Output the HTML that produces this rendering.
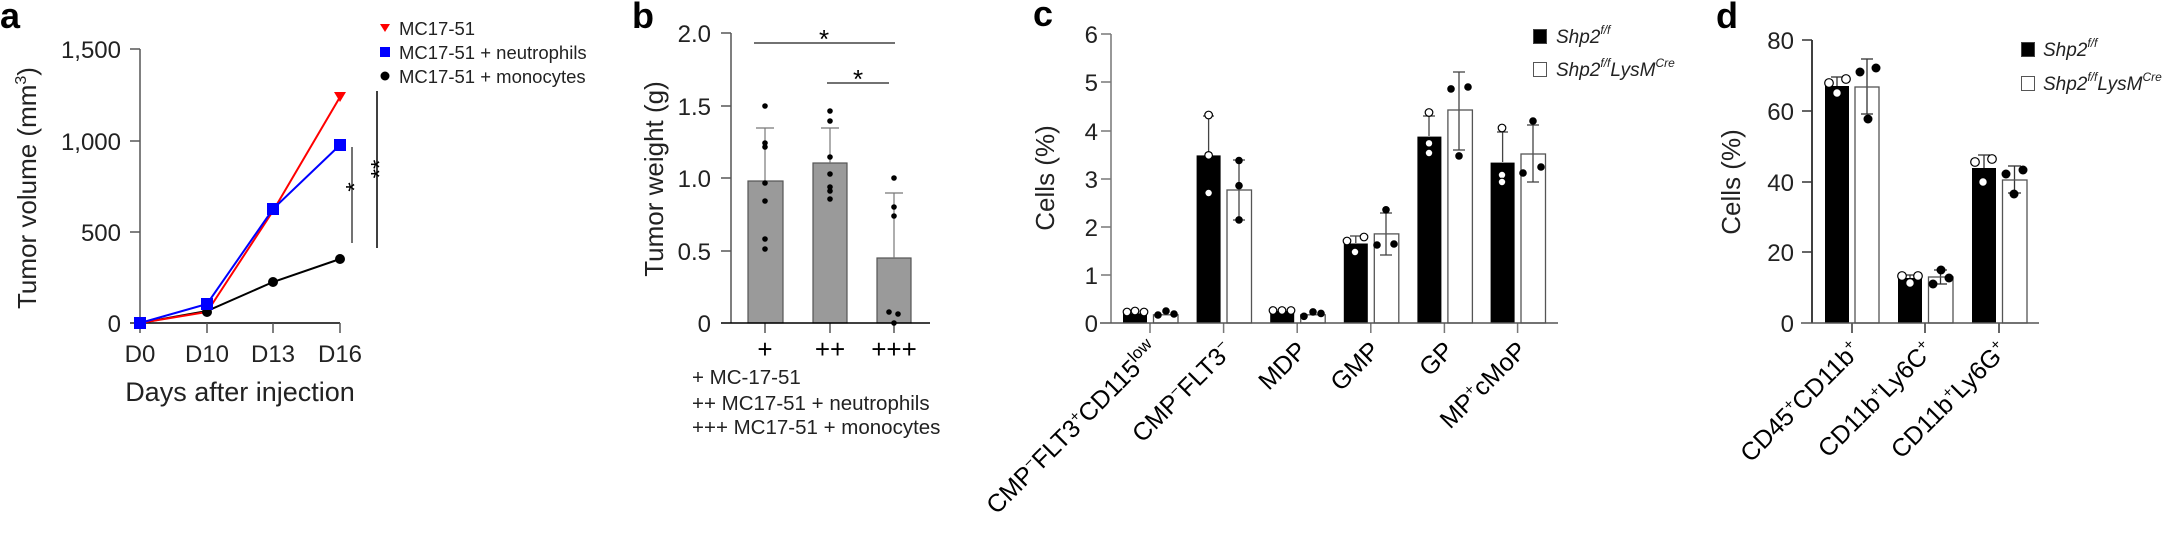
<!DOCTYPE html>
<html><head><meta charset="utf-8"><style>
html,body{margin:0;padding:0;background:#fff;}
svg{display:block;font-family:"Liberation Sans",sans-serif;}
</style></head><body>
<svg width="2167" height="539" viewBox="0 0 2167 539" xmlns="http://www.w3.org/2000/svg">
<!-- Panel letters -->
<g font-weight="bold" font-size="36" fill="#000">
<text x="0" y="28">a</text><text x="632" y="28">b</text><text x="1033" y="26">c</text><text x="1716" y="28">d</text>
</g>

<!-- ===== Panel a ===== -->
<g>
<line x1="140" y1="49" x2="140" y2="323" stroke="#808080" stroke-width="2"/>
<line x1="130" y1="323" x2="340" y2="323" stroke="#000" stroke-width="1.5"/>
<g stroke="#555" stroke-width="1.5">
<line x1="130" y1="49" x2="140" y2="49"/><line x1="130" y1="141" x2="140" y2="141"/><line x1="130" y1="232" x2="140" y2="232"/><line x1="130" y1="323" x2="140" y2="323"/>
<line x1="140" y1="323" x2="140" y2="333"/><line x1="207" y1="323" x2="207" y2="333"/><line x1="273" y1="323" x2="273" y2="333"/><line x1="340" y1="323" x2="340" y2="333"/>
</g>
<g font-size="24" text-anchor="end" fill="#222">
<text x="121" y="58">1,500</text><text x="121" y="150">1,000</text><text x="121" y="241">500</text><text x="121" y="332">0</text>
</g>
<g font-size="24" text-anchor="middle" fill="#222">
<text x="140" y="362">D0</text><text x="207" y="362">D10</text><text x="273" y="362">D13</text><text x="340" y="362">D16</text>
</g>
<text x="240" y="401" font-size="27" text-anchor="middle" fill="#222">Days after injection</text>
<text transform="translate(36,188) rotate(-90)" font-size="26" text-anchor="middle" fill="#222">Tumor volume (mm<tspan font-size="16" dy="-10">3</tspan><tspan dy="10">)</tspan></text>
<polyline points="140,323 207,311 273,282 340,259" fill="none" stroke="#000" stroke-width="2"/>
<polyline points="140,323 207,312 273,211 340,97" fill="none" stroke="#f00" stroke-width="2"/>
<polyline points="140,323 207,304 273,209 340,145" fill="none" stroke="#00f" stroke-width="2"/>
<g fill="#000"><circle cx="207" cy="312" r="5"/><circle cx="273" cy="282" r="5"/><circle cx="340" cy="259" r="5"/></g>
<polygon points="334,92 346,92 340,102" fill="#f00"/>
<g fill="#00f"><rect x="134" y="317" width="12" height="12"/><rect x="201" y="298" width="12" height="12"/><rect x="267" y="203" width="12" height="12"/><rect x="334" y="139" width="12" height="12"/></g>
<line x1="352" y1="147" x2="352" y2="243" stroke="#444" stroke-width="1.5"/>
<line x1="377" y1="91" x2="377" y2="248" stroke="#000" stroke-width="1.5"/>
<text transform="translate(356,187) rotate(-90)" font-size="24" text-anchor="middle" dominant-baseline="middle" fill="#000">*</text>
<text transform="translate(381,169) rotate(-90)" font-size="24" text-anchor="middle" dominant-baseline="middle" fill="#000">**</text>
<polygon points="380,24 390,24 385,32" fill="#f00"/>
<rect x="380" y="47" width="10" height="10" fill="#00f"/>
<circle cx="385" cy="76" r="4.5" fill="#000"/>
<g font-size="18.5" fill="#222">
<text x="399" y="35">MC17-51</text><text x="399" y="59">MC17-51 + neutrophils</text><text x="399" y="83">MC17-51 + monocytes</text>
</g>
</g>

<!-- ===== Panel b ===== -->
<g>
<text transform="translate(656,179) rotate(-90)" font-size="26" text-anchor="middle" dominant-baseline="middle" fill="#222">Tumor weight (g)</text>
<g font-size="24" text-anchor="end" fill="#222">
<text x="711" y="42">2.0</text><text x="711" y="115">1.5</text><text x="711" y="187">1.0</text><text x="711" y="260">0.5</text><text x="711" y="332">0</text>
</g>
<g fill="#9a9a9a" stroke="#555" stroke-width="1.2">
<rect x="748" y="181" width="35" height="142"/><rect x="813" y="163" width="34" height="160"/><rect x="877" y="258" width="34" height="65"/>
</g>
<line x1="731" y1="33" x2="731" y2="323" stroke="#555" stroke-width="1.5"/>
<g stroke="#555" stroke-width="1.5">
<line x1="721" y1="33" x2="731" y2="33"/><line x1="721" y1="106" x2="731" y2="106"/><line x1="721" y1="178" x2="731" y2="178"/><line x1="721" y1="251" x2="731" y2="251"/>
<line x1="765" y1="323" x2="765" y2="333"/><line x1="830" y1="323" x2="830" y2="333"/><line x1="894" y1="323" x2="894" y2="333"/>
</g>
<line x1="721" y1="323" x2="930" y2="323" stroke="#000" stroke-width="1.5"/>
<g stroke="#777" stroke-width="1.2">
<line x1="765" y1="181" x2="765" y2="128"/><line x1="756" y1="128" x2="774" y2="128"/>
<line x1="830" y1="163" x2="830" y2="128"/><line x1="821" y1="128" x2="839" y2="128"/>
<line x1="894" y1="258" x2="894" y2="193"/><line x1="885" y1="193" x2="903" y2="193"/>
</g>
<g fill="#000">
<circle cx="765" cy="106" r="2.8"/><circle cx="765" cy="143" r="2.8"/><circle cx="765" cy="147" r="2.8"/><circle cx="765" cy="183" r="2.8"/><circle cx="765" cy="201" r="2.8"/><circle cx="765" cy="239" r="2.8"/><circle cx="765" cy="249" r="2.8"/>
<circle cx="830" cy="111" r="2.8"/><circle cx="830" cy="121" r="2.8"/><circle cx="830" cy="157" r="2.8"/><circle cx="830" cy="174" r="2.8"/><circle cx="830" cy="187" r="2.8"/><circle cx="830" cy="191" r="2.8"/><circle cx="830" cy="199" r="2.8"/>
<circle cx="894" cy="178" r="2.8"/><circle cx="894" cy="207" r="2.8"/><circle cx="894" cy="216" r="2.8"/><circle cx="889" cy="312" r="2.8"/><circle cx="898" cy="314" r="2.8"/><circle cx="894" cy="323" r="2.8"/>
</g>
<line x1="754" y1="43" x2="895" y2="43" stroke="#444" stroke-width="1.5"/>
<line x1="827" y1="83" x2="889" y2="83" stroke="#444" stroke-width="1.5"/>
<text x="824" y="48" font-size="26" text-anchor="middle" fill="#000">*</text>
<text x="858" y="88" font-size="26" text-anchor="middle" fill="#000">*</text>
<g font-size="26" text-anchor="middle" fill="#000">
<text x="765" y="358">+</text><text x="830" y="358">++</text><text x="894" y="358">+++</text>
</g>
<g font-size="20.5" fill="#222">
<text x="692" y="384">+ MC-17-51</text><text x="692" y="410">++ MC17-51 + neutrophils</text><text x="692" y="434">+++ MC17-51 + monocytes</text>
</g>
</g>

<!-- ===== Panel c ===== -->
<g>
<text transform="translate(1047,178) rotate(-90)" font-size="26" text-anchor="middle" dominant-baseline="middle" fill="#222">Cells (%)</text>
<g font-size="24" text-anchor="end" fill="#222">
<text x="1098" y="43">6</text><text x="1098" y="91">5</text><text x="1098" y="140">4</text><text x="1098" y="188">3</text><text x="1098" y="236">2</text><text x="1098" y="284">1</text><text x="1098" y="332">0</text>
</g>
<line x1="1111" y1="34" x2="1111" y2="323" stroke="#777" stroke-width="1.5"/>
<g stroke="#777" stroke-width="1.5">
<line x1="1101" y1="34" x2="1111" y2="34"/><line x1="1101" y1="82" x2="1111" y2="82"/><line x1="1101" y1="131" x2="1111" y2="131"/><line x1="1101" y1="179" x2="1111" y2="179"/><line x1="1101" y1="227" x2="1111" y2="227"/><line x1="1101" y1="275" x2="1111" y2="275"/>
<line x1="1150" y1="323" x2="1150" y2="333"/><line x1="1223.6" y1="323" x2="1223.6" y2="333"/><line x1="1297.2" y1="323" x2="1297.2" y2="333"/><line x1="1370.8" y1="323" x2="1370.8" y2="333"/><line x1="1444.4" y1="323" x2="1444.4" y2="333"/><line x1="1517.6" y1="323" x2="1517.6" y2="333"/>
</g>
<!-- error bars -->
<g stroke="#444" stroke-width="1.3">
<line x1="1208.6" y1="155" x2="1208.6" y2="116"/><line x1="1203" y1="116" x2="1214" y2="116"/>
<line x1="1239" y1="160" x2="1239" y2="220"/><line x1="1233" y1="160" x2="1245" y2="160"/><line x1="1233" y1="220" x2="1245" y2="220"/>
<line x1="1355.8" y1="243" x2="1355.8" y2="236"/><line x1="1350" y1="236" x2="1362" y2="236"/>
<line x1="1386" y1="213" x2="1386" y2="255"/><line x1="1380" y1="213" x2="1392" y2="213"/><line x1="1380" y1="255" x2="1392" y2="255"/>
<line x1="1429" y1="136" x2="1429" y2="116"/><line x1="1423" y1="116" x2="1435" y2="116"/>
<line x1="1459" y1="72" x2="1459" y2="150"/><line x1="1453" y1="72" x2="1465" y2="72"/><line x1="1453" y1="150" x2="1465" y2="150"/>
<line x1="1502.6" y1="162" x2="1502.6" y2="132"/><line x1="1497" y1="132" x2="1508" y2="132"/>
<line x1="1533" y1="125" x2="1533" y2="182"/><line x1="1527" y1="125" x2="1539" y2="125"/><line x1="1527" y1="182" x2="1539" y2="182"/>
</g>
<!-- bars -->
<g fill="#000">
<rect x="1123" y="313.4" width="24" height="9.6"/><rect x="1196.6" y="155.4" width="24" height="167.6"/><rect x="1270.2" y="311" width="24" height="12"/><rect x="1343.8" y="243.5" width="24" height="79.5"/><rect x="1417.4" y="136.6" width="24" height="186.4"/><rect x="1490.6" y="162.6" width="24" height="160.4"/>
</g>
<g fill="none" stroke="#555" stroke-width="1.3">
<rect x="1153.5" y="314.8" width="24.5" height="8.2"/><rect x="1227" y="190" width="24.5" height="133"/><rect x="1300.7" y="314.8" width="24.5" height="8.2"/><rect x="1374.3" y="233.9" width="24.5" height="89.1"/><rect x="1447.9" y="110" width="24.5" height="213"/><rect x="1521" y="154" width="24.5" height="169"/>
</g>
<!-- open circles -->
<g fill="#fff" stroke="#000" stroke-width="1.2">
<circle cx="1127" cy="312" r="3.8"/><circle cx="1135" cy="311" r="3.8"/><circle cx="1144" cy="312" r="3.8"/>
<circle cx="1208.6" cy="115" r="3.8"/><circle cx="1208.6" cy="155.4" r="3.8"/><circle cx="1208.6" cy="193" r="3.8"/>
<circle cx="1273" cy="310.5" r="3.8"/><circle cx="1282" cy="310.5" r="3.8"/><circle cx="1291" cy="310.5" r="3.8"/>
<circle cx="1347" cy="241" r="3.8"/><circle cx="1355" cy="252" r="3.8"/><circle cx="1364" cy="237" r="3.8"/>
<circle cx="1429" cy="112.5" r="3.8"/><circle cx="1429" cy="143.3" r="3.8"/><circle cx="1429" cy="153" r="3.8"/>
<circle cx="1502" cy="128" r="3.8"/><circle cx="1502" cy="175" r="3.8"/><circle cx="1502" cy="182" r="3.8"/>
</g>
<g fill="#000">
<circle cx="1158" cy="315" r="3.8"/><circle cx="1166" cy="311" r="3.8"/><circle cx="1174" cy="314" r="3.8"/>
<circle cx="1239" cy="160.5" r="3.8"/><circle cx="1239" cy="185.7" r="3.8"/><circle cx="1239" cy="219.9" r="3.8"/>
<circle cx="1304" cy="316.3" r="3.8"/><circle cx="1313" cy="311.9" r="3.8"/><circle cx="1321" cy="313.4" r="3.8"/>
<circle cx="1386" cy="209.8" r="3.8"/><circle cx="1377" cy="245" r="3.8"/><circle cx="1394" cy="244" r="3.8"/>
<circle cx="1451" cy="88.9" r="3.8"/><circle cx="1468" cy="87" r="3.8"/><circle cx="1459" cy="155.9" r="3.8"/>
<circle cx="1533" cy="121" r="3.8"/><circle cx="1523" cy="173" r="3.8"/><circle cx="1541" cy="167" r="3.8"/>
</g>
<line x1="1100" y1="323" x2="1558" y2="323" stroke="#555" stroke-width="1.5"/>
<g font-size="25" text-anchor="end" fill="#000">
<text transform="translate(1160,352) rotate(-45)">CMP<tspan font-size="15" dy="-10">−</tspan><tspan dy="10">FLT3</tspan><tspan font-size="15" dy="-10">+</tspan><tspan dy="10">CD115</tspan><tspan font-size="17" dy="-10">low</tspan></text>
<text transform="translate(1234,352) rotate(-45)">CMP<tspan font-size="15" dy="-10">−</tspan><tspan dy="10">FLT3</tspan><tspan font-size="15" dy="-10">−</tspan></text>
<text transform="translate(1308,352) rotate(-45)">MDP</text>
<text transform="translate(1381,352) rotate(-45)">GMP</text>
<text transform="translate(1455,352) rotate(-45)">GP</text>
<text transform="translate(1528,352) rotate(-45)">MP<tspan font-size="15" dy="-10">+</tspan><tspan dy="10">cMoP</tspan></text>
</g>
<rect x="1533.5" y="29.5" width="13" height="14" fill="#000" stroke="#444"/>
<rect x="1533.5" y="62.5" width="13" height="14" fill="#fff" stroke="#555"/>
<g font-size="19" font-style="italic" fill="#222">
<text x="1556" y="43">Shp2<tspan font-size="12" dy="-9">f/f</tspan></text>
<text x="1556" y="76">Shp2<tspan font-size="12" dy="-9">f/f</tspan><tspan dy="9">LysM</tspan><tspan font-size="12" dy="-9">Cre</tspan></text>
</g>
</g>

<!-- ===== Panel d ===== -->
<g>
<text transform="translate(1733,182) rotate(-90)" font-size="26" text-anchor="middle" dominant-baseline="middle" fill="#222">Cells (%)</text>
<g font-size="24" text-anchor="end" fill="#222">
<text x="1794" y="49">80</text><text x="1794" y="120">60</text><text x="1794" y="191">40</text><text x="1794" y="261">20</text><text x="1794" y="332">0</text>
</g>
<line x1="1812" y1="40" x2="1812" y2="323" stroke="#000" stroke-width="1.5"/>
<g stroke="#333" stroke-width="1.5">
<line x1="1802" y1="40" x2="1812" y2="40"/><line x1="1802" y1="111" x2="1812" y2="111"/><line x1="1802" y1="182" x2="1812" y2="182"/><line x1="1802" y1="252" x2="1812" y2="252"/>
<line x1="1852" y1="323" x2="1852" y2="333"/><line x1="1925" y1="323" x2="1925" y2="333"/><line x1="1999" y1="323" x2="1999" y2="333"/>
</g>
<g stroke="#333" stroke-width="1.3">
<line x1="1837" y1="86" x2="1837" y2="77"/><line x1="1831" y1="77" x2="1843" y2="77"/>
<line x1="1867" y1="59" x2="1867" y2="114"/><line x1="1861" y1="59" x2="1873" y2="59"/><line x1="1861" y1="114" x2="1873" y2="114"/>
<line x1="1910" y1="278" x2="1910" y2="275"/><line x1="1904" y1="275" x2="1916" y2="275"/>
<line x1="1940.5" y1="270" x2="1940.5" y2="284"/><line x1="1934" y1="270" x2="1947" y2="270"/><line x1="1934" y1="284" x2="1947" y2="284"/>
<line x1="1984" y1="168" x2="1984" y2="155"/><line x1="1978" y1="155" x2="1990" y2="155"/>
<line x1="2014.5" y1="166" x2="2014.5" y2="193"/><line x1="2008" y1="166" x2="2021" y2="166"/><line x1="2008" y1="193" x2="2021" y2="193"/>
</g>
<g fill="#000">
<rect x="1825" y="86" width="24" height="237"/><rect x="1898" y="278" width="24" height="45"/><rect x="1972" y="168" width="24" height="155"/>
</g>
<g fill="none" stroke="#555" stroke-width="1.3">
<rect x="1855" y="87" width="24" height="236"/><rect x="1928.5" y="277" width="24.5" height="46"/><rect x="2002.5" y="180" width="24.5" height="143"/>
</g>
<g fill="#fff" stroke="#000" stroke-width="1.2">
<circle cx="1829" cy="83" r="4.3"/><circle cx="1837" cy="93" r="4.3"/><circle cx="1846" cy="79" r="4.3"/>
<circle cx="1902" cy="276" r="4.3"/><circle cx="1910" cy="283" r="4.3"/><circle cx="1918" cy="276" r="4.3"/>
<circle cx="1975" cy="162" r="4.3"/><circle cx="1992" cy="159" r="4.3"/><circle cx="1983" cy="182" r="4.3"/>
</g>
<g fill="#000">
<circle cx="1860" cy="72" r="4.5"/><circle cx="1876" cy="68" r="4.5"/><circle cx="1868" cy="119" r="4.5"/>
<circle cx="1933" cy="284" r="4.5"/><circle cx="1941" cy="270" r="4.5"/><circle cx="1949" cy="278" r="4.5"/>
<circle cx="2006" cy="174" r="4.5"/><circle cx="2023" cy="170" r="4.5"/><circle cx="2014" cy="194" r="4.5"/>
</g>
<line x1="1801" y1="323" x2="2039" y2="323" stroke="#555" stroke-width="1.5"/>
<g font-size="25" text-anchor="end" fill="#000">
<text transform="translate(1862,352) rotate(-45)">CD45<tspan font-size="15" dy="-10">+</tspan><tspan dy="10">CD11b</tspan><tspan font-size="15" dy="-10">+</tspan></text>
<text transform="translate(1935,352) rotate(-45)">CD11b<tspan font-size="15" dy="-10">+</tspan><tspan dy="10">Ly6C</tspan><tspan font-size="15" dy="-10">+</tspan></text>
<text transform="translate(2009,352) rotate(-45)">CD11b<tspan font-size="15" dy="-10">+</tspan><tspan dy="10">Ly6G</tspan><tspan font-size="15" dy="-10">+</tspan></text>
</g>
<rect x="2021.5" y="42.5" width="13" height="14" fill="#000" stroke="#444"/>
<rect x="2021.5" y="76.5" width="13" height="14" fill="#fff" stroke="#555"/>
<g font-size="19" font-style="italic" fill="#222">
<text x="2043" y="56">Shp2<tspan font-size="12" dy="-9">f/f</tspan></text>
<text x="2043" y="90">Shp2<tspan font-size="12" dy="-9">f/f</tspan><tspan dy="9">LysM</tspan><tspan font-size="12" dy="-9">Cre</tspan></text>
</g>
</g>
</svg>
</body></html>
